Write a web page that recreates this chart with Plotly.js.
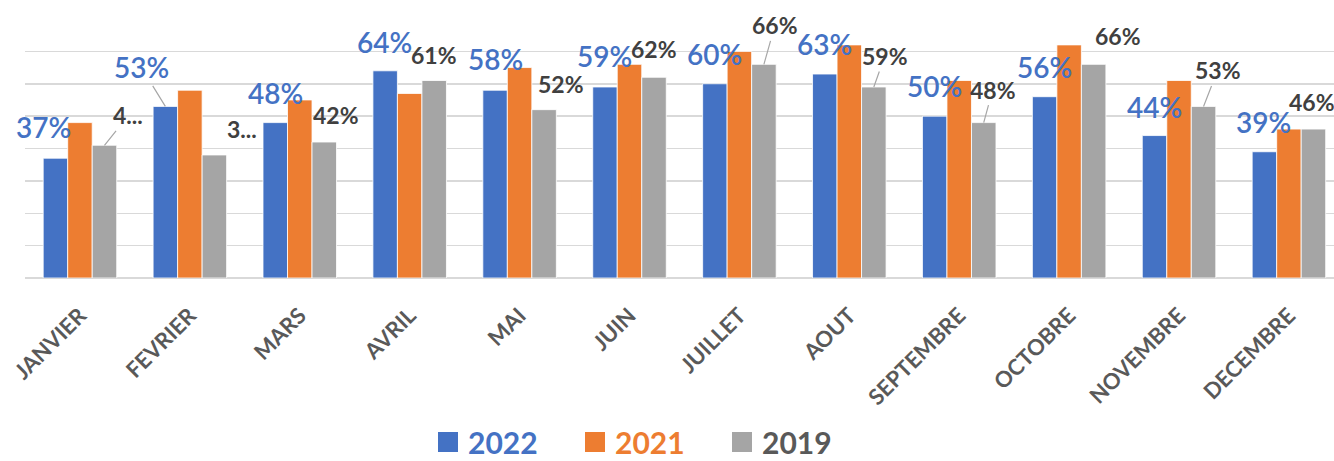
<!DOCTYPE html>
<html>
<head>
<meta charset="utf-8">
<script src="https://cdn.plot.ly/plotly-3.0.1.min.js"></script>
<style>
  html, body { margin: 0; padding: 0; background: #ffffff; }
  #chart { width: 1334px; height: 461px; }
</style>
</head>
<body>
<div id="chart"></div>
<script>
// ---- data ----
const months = ['JANVIER', 'FEVRIER', 'MARS', 'AVRIL', 'MAI', 'JUIN', 'JUILLET', 'AOUT', 'SEPTEMBRE', 'OCTOBRE', 'NOVEMBRE', 'DECEMBRE'];
const seriesNames = ['2022', '2021', '2019'];
const values2022 = [37, 53, 48, 64, 58, 59, 60, 63, 50, 56, 44, 39];
const values2021 = [48, 58, 55, 57, 65, 66, 70, 72, 61, 72, 61, 46];
const values2019 = [41, 38, 42, 61, 52, 62, 66, 59, 48, 66, 53, 46];
// labels as shown in the picture (two 2019 labels are truncated)
const labels2022 = values2022.map(v => v + '%');
const labels2019 = ['4...', '3...'].concat(values2019.slice(2).map(v => v + '%'));

// ---- styling / label placement (pixels relative to bar top) ----
const colors = ['#4472C4', '#ED7D31', '#A5A5A5'];
const labelColors = ['#4472C4', '#404040'];
const FONT = 'Lato, "Open Sans", sans-serif';
const BARGAP = 0.331;
const barW = (1 - BARGAP) / 3;
// [dx, dy, leaderLine]
const place2022 = [[-12,-31,0],[-24,-39,1],[0,-30,0],[-1,-29,0],[0,-31,0],[0,-31,0],[0,-30,0],[0,-30,0],[0,-30,0],[0,-30,0],[0,-29,0],[-1,-30,0]];
const place2019 = [[24,-30,1],[28,-26,0],[12,-27,0],[0,-26,0],[17,-26,0],[0,-28,0],[11,-39,1],[11,-31,1],[9,-33,1],[24,-28,0],[14,-36,1],[-1,-27,0]];

const barTraces = [values2022, values2021, values2019].map((vals, k) => ({
  type: 'bar',
  x: months,
  y: vals,
  name: seriesNames[k],
  marker: { color: colors[k], line: { color: '#ffffff', width: 0.8 } },
  showlegend: false,
  hoverinfo: 'x+y+name'
}));

const legendTraces = seriesNames.map((n, k) => ({
  type: 'scatter',
  mode: 'markers',
  x: [null], y: [null],
  name: '<span style="color:' + (k === 2 ? '#595959' : colors[k]) + '">' + n + '</span>',
  marker: { symbol: 'square', size: 16, color: colors[k], line: { color: colors[k], width: 4 } },
  showlegend: true,
  hoverinfo: 'skip'
}));

function makeAnn(vals, labels, place, offsetUnits, color, size, weight) {
  return vals.map((v, i) => {
    const p = place[i];
    const base = {
      x: i + offsetUnits, y: v, xref: 'x', yref: 'y',
      text: labels[i],
      font: { family: FONT, size: size, color: color, weight: weight },
      xanchor: 'center', yanchor: 'middle'
    };
    if (p[2]) {
      return Object.assign(base, {
        showarrow: true, arrowhead: 0, arrowwidth: 1.2, arrowcolor: '#A6A6A6',
        ax: p[0], ay: p[1], standoff: 0
      });
    }
    return Object.assign(base, { showarrow: false, xshift: p[0], yshift: -p[1] });
  });
}

const annotations = []
  .concat(makeAnn(values2022, labels2022, place2022, -barW, labelColors[0], 28, 600))
  .concat(makeAnn(values2019, labels2019, place2019, barW, labelColors[1], 23, 'bold'));

const layout = {
  width: 1334, height: 461,
  margin: { l: 25, r: 0, t: 19, b: 182.5 },
  paper_bgcolor: '#ffffff', plot_bgcolor: '#ffffff',
  font: { family: FONT, color: '#595959' },
  barmode: 'group', bargap: BARGAP, bargroupgap: 0,
  xaxis: {
    type: 'category',
    range: [-0.5, 11.41],
    tickangle: -45,
    tickfont: { family: FONT, size: 22, color: '#595959', weight: 'bold' },
    ticks: 'outside', ticklen: 15, tickcolor: 'rgba(0,0,0,0)',
    showgrid: false, zeroline: false, showline: false, fixedrange: true
  },
  yaxis: {
    range: [0, 80], dtick: 10, tick0: 0,
    showticklabels: false, showgrid: true, gridcolor: '#D9D9D9', gridwidth: 1.5,
    zeroline: true, zerolinecolor: '#D9D9D9', zerolinewidth: 1.5,
    showline: false, fixedrange: true
  },
  showlegend: true,
  legend: {
    orientation: 'h', xref: 'container', yref: 'container',
    x: 428 / 1334, xanchor: 'left', y: 1 - 442 / 461, yanchor: 'middle',
    font: { family: FONT, size: 30, weight: 'bold', color: '#595959' },
    entrywidth: 102, entrywidthmode: 'pixels',
    bgcolor: 'rgba(0,0,0,0)', borderwidth: 0
  },
  annotations: annotations
};

Plotly.newPlot('chart', barTraces.concat(legendTraces), layout, { displayModeBar: false, staticPlot: true });
</script>
</body>
</html>
